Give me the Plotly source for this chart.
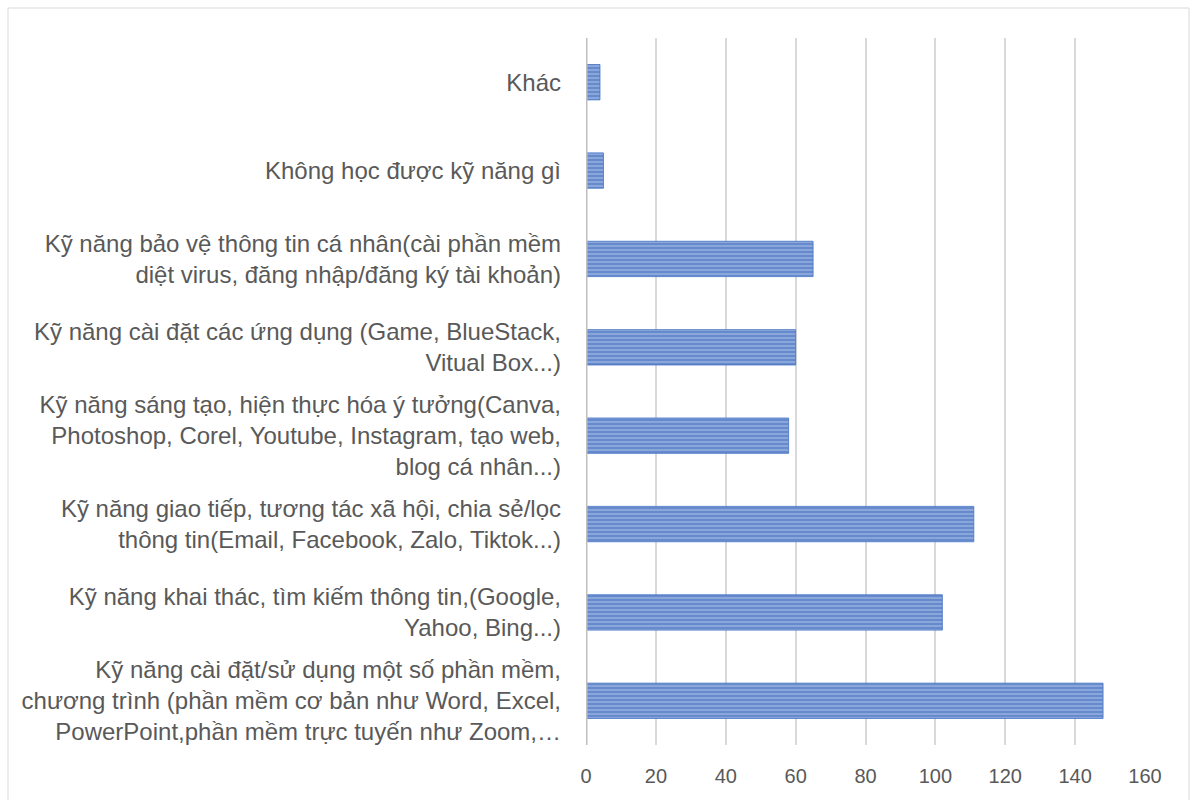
import plotly.graph_objects as go

categories = [
    "Kỹ năng cài đặt/sử dụng một số phần mềm,<br>chương trình (phần mềm cơ bản như Word, Excel,<br>PowerPoint,phần mềm trực tuyến như Zoom,…",
    "Kỹ năng khai thác, tìm kiếm thông tin,(Google,<br>Yahoo, Bing...)",
    "Kỹ năng giao tiếp, tương tác xã hội, chia sẻ/lọc<br>thông tin(Email, Facebook, Zalo, Tiktok...)",
    "Kỹ năng sáng tạo, hiện thực hóa ý tưởng(Canva,<br>Photoshop, Corel, Youtube, Instagram, tạo web,<br>blog cá nhân...)",
    "Kỹ năng cài đặt các ứng dụng (Game, BlueStack,<br>Vitual Box...)",
    "Kỹ năng bảo vệ thông tin cá nhân(cài phần mềm<br>diệt virus, đăng nhập/đăng ký tài khoản)",
    "Không học được kỹ năng gì",
    "Khác",
]
values = [148, 102, 111, 58, 60, 65, 5, 4]
x_ticks = [0, 20, 40, 60, 80, 100, 120, 140, 160]

fig = go.Figure(go.Bar(
    y=categories,
    x=values,
    orientation="h",
    width=0.4,
    marker=dict(
        color="#93AEE0",
        line=dict(color="#4472C4", width=0.8),
        pattern=dict(shape="-", fgcolor="#3A66B8", size=4, solidity=0.6),
    ),
    hoverinfo="x+y",
))

L, R, T, B = 586, 45, 38, 55
W, H = 1190, 800
pw, ph = W - L - R, H - T - B

fig.update_layout(
    width=W, height=H,
    margin=dict(l=L, r=R, t=T, b=B),
    paper_bgcolor="white",
    plot_bgcolor="white",
    font=dict(family="Liberation Sans, Arial, sans-serif", color="#595959"),
    showlegend=False,
    shapes=[dict(
        type="rect", xref="paper", yref="paper",
        x0=(8 - L) / pw, x1=(1189 - L) / pw,
        y0=(H - B - 830) / ph, y1=(H - B - 8) / ph,
        line=dict(color="#D9D9D9", width=1), fillcolor="rgba(0,0,0,0)",
        layer="below",
    )],
)
fig.update_xaxes(
    range=[0, 160],
    tickvals=x_ticks,
    showgrid=True, gridcolor="#D9D9D9", gridwidth=1.5,
    zeroline=False, showline=False,
    tickfont=dict(size=20, color="#595959"),
    ticklabelstandoff=17,
)
fig.update_yaxes(
    showgrid=False,
    showline=False,
    zeroline=False,
    tickfont=dict(size=24, color="#595959"),
    ticklabelstandoff=24,
    categoryorder="array", categoryarray=categories,
)
fig.add_shape(type="line", xref="x", yref="paper", x0=0, x1=0, y0=0, y1=1,
              x0shift=-1, x1shift=-1,
              line=dict(color="#BFBFBF", width=3), layer="above")

fig.write_html("out.html", config={"displayModeBar": False},
               post_script="document.body.style.margin='0';document.body.style.overflow='hidden';")
